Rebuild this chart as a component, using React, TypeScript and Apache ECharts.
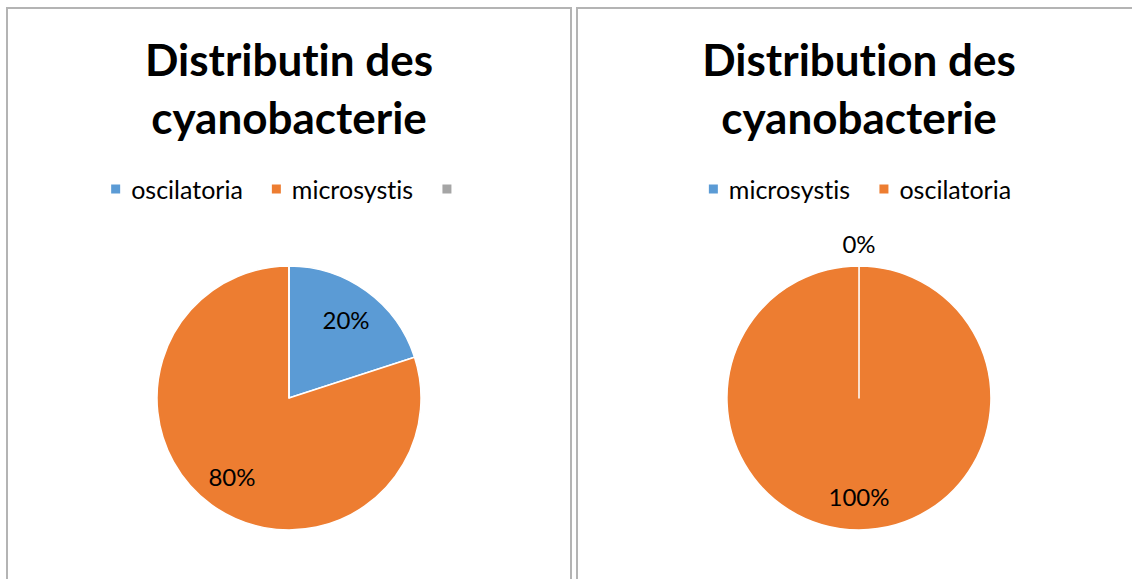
import React, { useEffect, useRef } from "react";
import * as echarts from "echarts";

// ---- data ----
const leftTitle = "Distributin des\ncyanobacterie";
const leftNames = ["oscilatoria", "microsystis", " "];
const leftValues = [20, 80, 0];
const leftColors = ["#5b9bd5", "#ed7d31", "#a5a5a5"];
const leftLabelShown = [true, true, false];

const rightTitle = "Distribution des\ncyanobacterie";
const rightNames = ["microsystis", "oscilatoria"];
const rightValues = [0, 100];
const rightColors = ["#5b9bd5", "#ed7d31"];

const FONT = "Lato, 'Noto Sans', sans-serif";
const CENTER: [number, number] = [281, 389];
const R = 132;

function pct(p: any) {
  return Math.round(p.percent) + "%";
}

function baseOption(title: string, names: string[], colors: string[]) {
  return {
    animation: false,
    color: colors,
    title: {
      text: title,
      left: 281,
      textAlign: "center",
      top: 21,
      padding: 0,
      textStyle: {
        fontFamily: FONT,
        fontWeight: "bold",
        fontSize: 44,
        lineHeight: 58,
        color: "#000",
      },
    },
    legend: {
      data: names,
      top: 166,
      left: "center",
      padding: 0,
      icon: "rect",
      itemWidth: 11,
      itemHeight: 11,
      itemGap: 27,
      selectedMode: false,
      textStyle: {
        fontFamily: FONT,
        fontSize: 25,
        lineHeight: 28,
        color: "#000",
        padding: [0, 0, 0, 5],
      },
    },
  };
}

function mainSeries(names: string[], values: number[]) {
  return {
    type: "pie",
    center: CENTER,
    radius: R,
    startAngle: 90,
    clockwise: true,
    minAngle: 0.05,
    silent: true,
    label: { show: false },
    labelLine: { show: false },
    itemStyle: { borderColor: "#ffffff", borderWidth: 1.5 },
    data: names.map((n, i) => ({ name: n, value: values[i] })),
  };
}

function labelSeries(names: string[], values: number[], shown: boolean[], inner: number, outer: number) {
  return {
    type: "pie",
    center: CENTER,
    radius: [inner, outer],
    startAngle: 90,
    clockwise: true,
    silent: true,
    avoidLabelOverlap: false,
    itemStyle: { color: "rgba(0,0,0,0)", borderWidth: 0 },
    labelLine: { show: false },
    label: {
      show: true,
      position: "inside",
      formatter: pct,
      fontFamily: FONT,
      fontSize: 24,
      color: "#000",
    },
    data: names.map((n, i) => ({ name: n, value: values[i], label: { show: shown[i] } })),
  };
}

function leftOption() {
  const o: any = baseOption(leftTitle, leftNames, leftColors);
  o.series = [
    mainSeries(leftNames, leftValues),
    labelSeries(leftNames, leftValues, leftLabelShown, 56, R),
  ];
  return o;
}

function rightOption() {
  const o: any = baseOption(rightTitle, rightNames, rightColors);
  o.series = [
    mainSeries(rightNames, rightValues),
    labelSeries(rightNames, rightValues, [false, true], 58, R),
    labelSeries(rightNames, rightValues, [true, false], 142, 162),
  ];
  return o;
}

function Panel({ left, option }: { left: number; option: () => any }) {
  const ref = useRef<HTMLDivElement>(null);
  useEffect(() => {
    if (!ref.current) return;
    const chart = echarts.init(ref.current, undefined, { renderer: "svg" });
    chart.setOption(option());
    return () => chart.dispose();
  }, []);
  return (
    <div
      style={{
        position: "absolute",
        left,
        top: 7,
        width: 566,
        height: 620,
        boxSizing: "border-box",
        border: "2px solid #b4b4b4",
        background: "#fff",
      }}
    >
      <div ref={ref} style={{ width: 562, height: 600 }} />
    </div>
  );
}

export default function App() {
  return (
    <div
      style={{
        position: "fixed",
        left: 0,
        top: 0,
        width: 1132,
        height: 579,
        overflow: "hidden",
        background: "#fff",
      }}
    >
      <style>{`svg text { font-variant-ligatures: none !important; font-feature-settings: "liga" 0, "clig" 0, "dlig" 0, "calt" 0 !important; }`}</style>
      <Panel left={6} option={leftOption} />
      <Panel left={576} option={rightOption} />
    </div>
  );
}
